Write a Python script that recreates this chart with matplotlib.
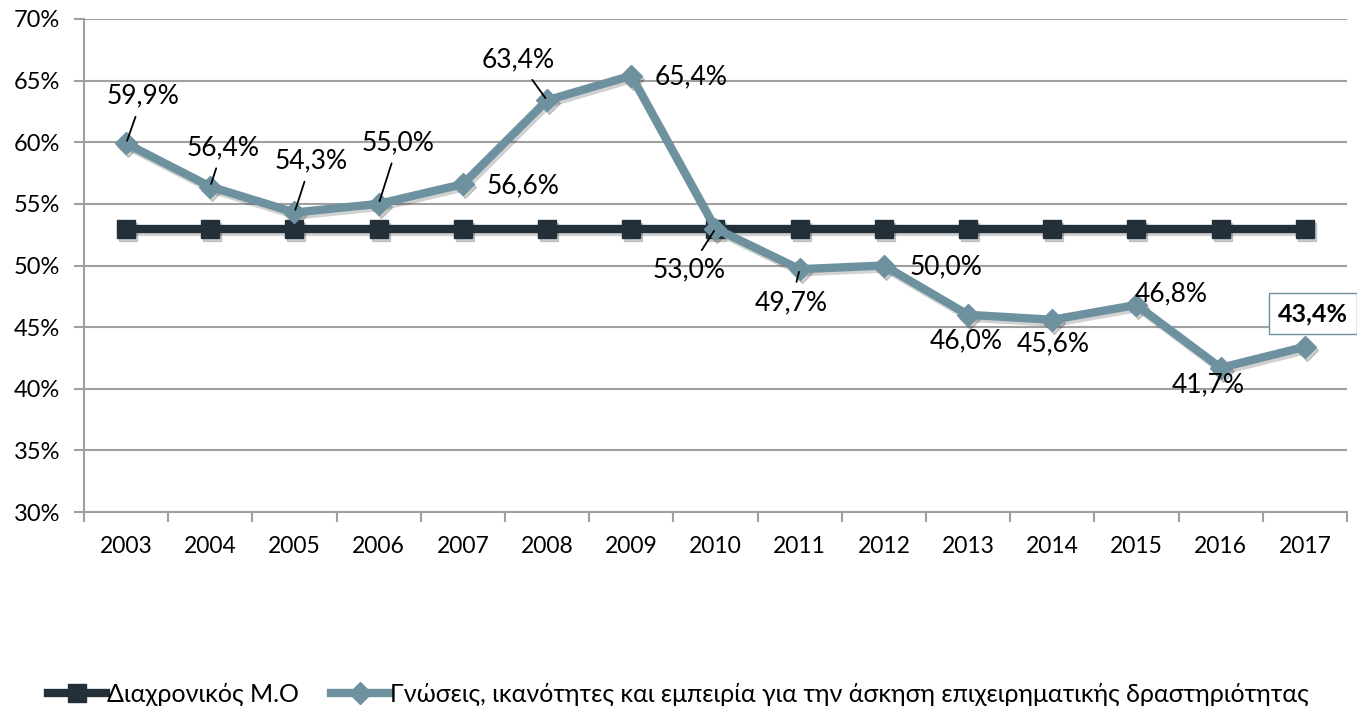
import matplotlib
matplotlib.use("Agg")
import matplotlib.pyplot as plt
from matplotlib.ticker import FixedLocator
from matplotlib.transforms import offset_copy

years = ["2003", "2004", "2005", "2006", "2007", "2008", "2009", "2010",
         "2011", "2012", "2013", "2014", "2015", "2016", "2017"]
avg_values = [53.0] * 15
skill_values = [59.9, 56.4, 54.3, 55.0, 56.6, 63.4, 65.4, 53.0,
                49.7, 50.0, 46.0, 45.6, 46.8, 41.7, 43.4]
avg_label = "Διαχρονικός Μ.Ο"
skill_label = "Γνώσεις, ικανότητες και εμπειρία για την άσκηση επιχειρηματικής δραστηριότητας"

# label offsets in points (dx, dy) and whether a leader line is drawn
offsets = [(12, 34, True), (9, 28, True), (12, 37, True), (14, 44, True),
           (43, -1, False), (-21, 29, True), (43, -1, False), (-19, -30, True),
           (-6, -24, True), (45, -1, False), (-1, -19, False), (1, -17, False),
           (25, 8, False), (-9, -12, False), (6, 24, False)]

plt.rcParams['font.family'] = ['Lato', 'DejaVu Sans']

fig = plt.figure(figsize=(13.57, 7.08), dpi=100)
ax = fig.add_axes([0.0619, 0.2768, 0.9307, 0.6964])

x = list(range(len(years)))
dark = "#23303a"
teal = "#6e919f"

shadow_tr = offset_copy(ax.transData, fig=fig, x=2, y=-3, units="dots")
ax.plot(x, avg_values, color="black", alpha=0.18, lw=6, marker="s", markersize=13,
        transform=shadow_tr, zorder=2)
ax.plot(x, skill_values, color="black", alpha=0.18, lw=6, marker="D", markersize=11,
        transform=shadow_tr, zorder=2)

ax.plot(x, avg_values, color=dark, lw=6, marker="s", markersize=13,
        label=avg_label, zorder=3)
ax.plot(x, skill_values, color=teal, lw=6, marker="D", markersize=11,
        label=skill_label, zorder=4)

for i, v in enumerate(skill_values):
    dx, dy, leader = offsets[i]
    txt = f"{v:.1f}%".replace(".", ",")
    if i == len(skill_values) - 1:
        ax.annotate(txt, (i, v), xytext=(dx, dy), textcoords="offset points",
                    ha="center", va="center", fontsize=18, fontweight="bold",
                    bbox=dict(boxstyle="square,pad=0.35", fc="white", ec=teal, lw=1),
                    zorder=6, annotation_clip=False)
    elif leader:
        ax.annotate(txt, (i, v), xytext=(dx, dy), textcoords="offset points",
                    ha="center", va="center", fontsize=19,
                    arrowprops=dict(arrowstyle="-", color="black", lw=1.3,
                                    shrinkA=4, shrinkB=2),
                    zorder=6)
    else:
        ax.annotate(txt, (i, v), xytext=(dx, dy), textcoords="offset points",
                    ha="center", va="center", fontsize=19, zorder=6)

ax.set_xlim(-0.5, len(years) - 0.5)
ax.set_ylim(30, 70)
ax.set_yticks(range(30, 71, 5))
ax.set_yticklabels([f"{t}%" for t in range(30, 71, 5)], fontsize=17)
ax.set_xticks(x)
ax.set_xticklabels(years, fontsize=16.5)
ax.xaxis.set_minor_locator(FixedLocator([i - 0.5 for i in range(len(years) + 1)]))
ax.tick_params(axis="x", which="major", length=0, pad=17)
ax.tick_params(axis="x", which="minor", length=7, color="#a0a0a0", width=1.5)
ax.tick_params(axis="y", length=7, color="#a0a0a0", width=1.5, pad=10)
ax.grid(axis="y", color="#a0a0a0", lw=1.5)
ax.set_axisbelow(True)
for s in ["top", "right"]:
    ax.spines[s].set_visible(False)
for s in ["left", "bottom"]:
    ax.spines[s].set_color("#a0a0a0")
    ax.spines[s].set_linewidth(1.5)

fig.legend(handles=ax.get_lines()[2:], loc="lower center", bbox_to_anchor=(0.5, 0.0),
           borderaxespad=0.0, borderpad=0.1, ncol=2, frameon=False, fontsize=18,
           handlelength=2.3, handletextpad=0.05, columnspacing=1.3)

fig.savefig("out.png", dpi=100)
